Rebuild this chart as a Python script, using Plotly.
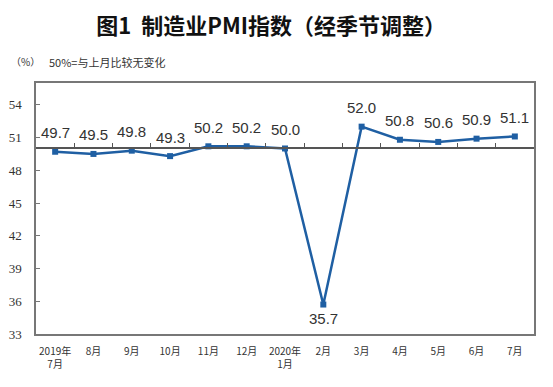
import plotly.graph_objects as go

months = ["2019年<br>7月", "8月", "9月", "10月", "11月", "12月", "2020年<br>1月",
          "2月", "3月", "4月", "5月", "6月", "7月"]
pmi = [49.7, 49.5, 49.8, 49.3, 50.2, 50.2, 50.0, 35.7, 52.0, 50.8, 50.6, 50.9, 51.1]
y_ticks = [33, 36, 39, 42, 45, 48, 51, 54]
y_range = [33, 56]
baseline = 50

line_color = "#1f5fa3"
cjk = "Noto Sans CJK SC"

fig = go.Figure()
fig.add_trace(go.Scatter(
    x=months, y=pmi, mode="lines+markers",
    line=dict(color=line_color, width=2.5),
    marker=dict(symbol="square", size=6, color=line_color),
    showlegend=False, hoverinfo="skip", cliponaxis=False,
))
# invisible trace to carry the baseline axis
fig.add_trace(go.Scatter(
    x=months, y=pmi, xaxis="x2", mode="lines",
    line=dict(color="rgba(0,0,0,0)"), showlegend=False, hoverinfo="skip",
))

for m, v in zip(months, pmi):
    below = v < baseline - 5
    fig.add_annotation(
        x=m, y=v, text=f"{v:.1f}", showarrow=False,
        yshift=-14 if below else 19,
        font=dict(family="Arial, Liberation Sans", size=15, color="#333333"),
    )

base_pos = (baseline - y_range[0]) / (y_range[1] - y_range[0])

# the page body has an 8px default margin; size/margins compensate for it
fig.update_layout(
    width=545, height=379,
    margin=dict(l=28, r=19, t=75, b=53, autoexpand=False),
    paper_bgcolor="white", plot_bgcolor="white",
    title=dict(text="<b>图1  制造业PMI指数（经季节调整）</b>", x=0.162, xanchor="left",
               y=0.953, yanchor="middle",
               font=dict(family=cjk, size=22, color="#111111")),
    xaxis=dict(type="category", range=[-0.5, len(months) - 0.5],
               showline=True, mirror=True, linecolor="#777777", linewidth=1.5,
               showgrid=False, ticks="", zeroline=False, ticklabelstandoff=7,
               tickfont=dict(family=cjk, size=10, color="#333333")),
    xaxis2=dict(type="category", overlaying="x", matches="x", anchor="free",
                position=base_pos, showline=True, linecolor="#555555", linewidth=1.5,
                showgrid=False, ticks="inside", tickson="boundaries", ticklen=5,
                tickcolor="#555555", showticklabels=False),
    yaxis=dict(range=y_range, tickvals=y_ticks, showline=True, mirror=True,
               linecolor="#777777", linewidth=1.5, showgrid=False, zeroline=False,
               ticks="inside", ticklen=4, tickcolor="#777777", ticklabelstandoff=10,
               tickfont=dict(family="Liberation Serif, Times New Roman", size=13, color="#333333")),
)

fig.add_annotation(xref="paper", yref="paper", x=-0.054, y=1.084, text="（%）",
                   showarrow=False, xanchor="left", yanchor="middle",
                   font=dict(family=cjk, size=10, color="#333333"))
fig.add_annotation(xref="paper", yref="paper", x=0.022, y=1.084, text="50%=与上月比较无变化",
                   showarrow=False, xanchor="left", yanchor="middle",
                   font=dict(family=cjk, size=11, color="#333333"))

fig.write_html("out.html")
